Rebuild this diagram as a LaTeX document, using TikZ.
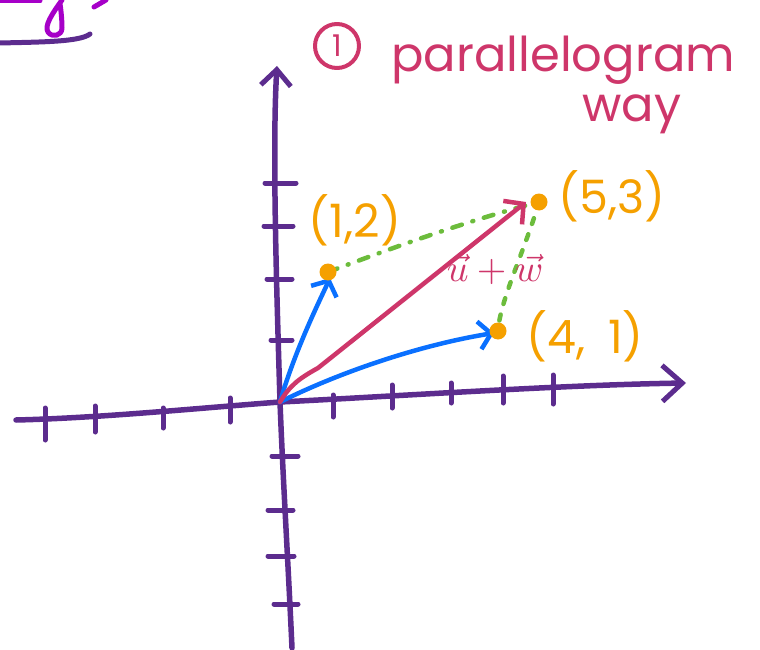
\documentclass[tikz,border=0pt]{standalone}
\usepackage{fontspec}
\setmainfont{Poppins}
\usetikzlibrary{arrows.meta}
\definecolor{axiscol}{RGB}{92,44,142}
\definecolor{bluecol}{RGB}{10,112,255}
\definecolor{pinkcol}{RGB}{206,54,106}
\definecolor{orangecol}{RGB}{245,160,0}
\definecolor{greencol}{RGB}{108,188,60}
\definecolor{magcol}{RGB}{166,0,200}
\begin{document}
\begin{tikzpicture}[x=1pt,y=-1pt, line cap=round, line join=round,
  axisline/.style={draw=axiscol, line width=5.5pt},
  tickmark/.style={draw=axiscol, line width=5pt},
  axtip/.style={-{Straight Barb[length=20pt,width=36pt,line width=5pt]}},
  vecb/.style={draw=bluecol, line width=4.5pt, -{Straight Barb[length=12pt,width=28pt,line width=4.5pt]}},
  vecp/.style={draw=pinkcol, line width=4.5pt, -{Straight Barb[length=14pt,width=30pt,line width=4.5pt]}},
  dotted green/.style={draw=greencol, line width=4.5pt},
  pt/.style={circle, fill=orangecol, inner sep=0pt, minimum size=17pt},
  lbl/.style={text=orangecol, font=\fontsize{46}{50}\selectfont},
  title/.style={text=pinkcol, font=\fontsize{48}{52}\selectfont}]
\useasboundingbox (0,0) rectangle (760,650);

% top-left fragment
\draw[magcol, line width=5pt] (62,0) .. controls (52,14) and (44,26) .. (48,32) .. controls (52,38) and (62,36) .. (62,28) .. controls (62,20) and (61,10) .. (60,4);
\draw[magcol, line width=5pt] (94,7) -- (106,0);
\draw[magcol, line width=5pt] (0,1) -- (40,1);
\draw[axiscol, line width=5pt] (0,43) .. controls (40,42) and (80,42) .. (90,34);

% coordinates
\coordinate (O) at (280,402);
\coordinate (XL) at (16,420);
\coordinate (XR) at (686,383);
\coordinate (YT) at (277,66);
\coordinate (YB) at (292,648);
\coordinate (A) at (328,272);
\coordinate (B) at (498,331);
\coordinate (C) at (539,202);

% axes
\draw[axisline] (XL) .. controls (100,418) and (200,408) .. (O);
\draw[axisline, axtip] (O) .. controls (400,396) and (560,385) .. (XR);
\draw[axisline, -{Straight Barb[length=16pt,width=30pt,line width=5pt]}] (O) .. controls (277,300) and (272,150) .. (YT);
\draw[axisline] (O) .. controls (283,480) and (288,560) .. (YB);

% x ticks
\foreach \x/\ya/\yb in {45/408/440, 95/406/432, 163/408/428, 230/398/422, 333/395/417, 392/385/408, 451/383/403, 503/376/403, 553/375/404}
  \draw[tickmark] (\x,\ya) -- (\x,\yb);
% y ticks
\foreach \y/\xa/\xb in {183/265/296, 226/264/293, 279/267/292, 340/271/292, 456/272/298, 510/268/293, 556/268/294, 604/274/298}
  \draw[tickmark] (\xa,\y) -- (\xb,\y);

% green dashed parallelogram sides
\draw[dotted green, dash pattern=on 10pt off 11pt on 1pt off 11pt] (A) .. controls (400,245) and (470,220) .. (C);
\draw[dotted green, dash pattern=on 6pt off 11pt] (C) .. controls (525,250) and (500,300) .. (B);

% vectors
\draw[vecb] (O) .. controls (295,350) and (320,300) .. (330,278);
\draw[vecb] (O) .. controls (340,372) and (420,345) .. (494,333);
\draw[vecp] (O) .. controls (290,385) and (300,378) .. (318,368) -- (526,202);

% points
\node[pt] (pA) at (A) {};
\node[pt] (pB) at (B) {};
\node[pt] (pC) at (C) {};

% labels
\node[lbl] (lA) at (355,220) {(1,2)};
\node[lbl] (lC) at (612,196) {(5,3)};
\node[lbl] (lB) at (585,336) {(4,\,\,\,1)};
\node[text=pinkcol] (sum) at (495,270) {\scalebox{3.8}{$\vec{u}+\vec{w}$}};

% title
\node[circle, draw=pinkcol, line width=4pt, minimum size=44pt, inner sep=0pt, text=pinkcol, font=\fontsize{30}{32}\selectfont] (one) at (337,46) {1};
\node[title, anchor=base west] (t1) at (388,72) {parallelogram};
\node[title, anchor=base] (t2) at (632,122) {way};
\end{tikzpicture}
\end{document}
